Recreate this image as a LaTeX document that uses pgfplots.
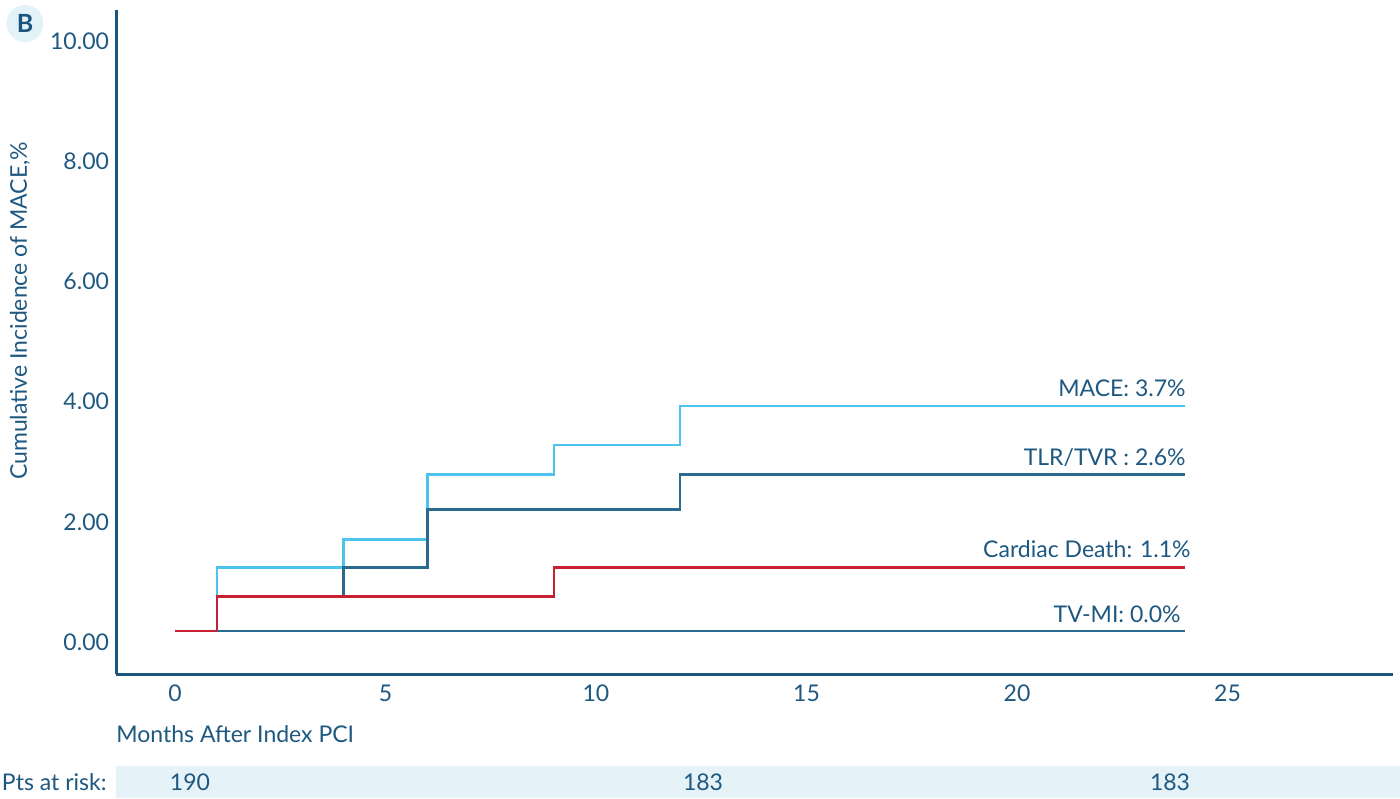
\documentclass[border=0pt]{standalone}
\usepackage{pgfplots}
\pgfplotsset{compat=1.18}
\usepackage{fontspec}
\setmainfont{Lato}
\definecolor{txt}{HTML}{1E5880}
\definecolor{axisc}{HTML}{1A557E}
\definecolor{tlr}{HTML}{2A6A8C}
\definecolor{mace}{HTML}{4DC4EE}
\definecolor{cd}{HTML}{C82030}
\definecolor{band}{HTML}{E5F3F9}
\definecolor{circ}{HTML}{E3F2F8}
\begin{document}
\begin{tikzpicture}
\begin{axis}[
  at={(0,0)}, anchor=south west,
  scale only axis, width=638.5pt, height=332pt,
  xmin=-1.40, xmax=28.93, ymin=-0.534, ymax=10.52,
  axis lines=left,
  axis line style={-, draw=axisc, line width=1.5pt},
  xtick={0,5,10,15,20,25}, ytick={0,2,4,6,8,10},
  major tick length=0pt,
  /pgf/number format/assume math mode=true,
  ticklabel style={font=\fontsize{11.5}{13}\selectfont, text=txt},
  yticklabel style={/pgf/number format/.cd, fixed, fixed zerofill, precision=2},
  xticklabel style={yshift=-2pt},
  clip=false,
  ylabel={Cumulative Incidence of MACE,\%},
  ylabel style={at={(axis description cs:-0.0752,0.547)}, anchor=center, font=\fontsize{11.5}{13}\selectfont, text=txt},
  xlabel={Months After Index PCI},
  xlabel style={at={(axis description cs:0,-0.0904)}, anchor=west, inner sep=0pt, font=\fontsize{11.5}{13}\selectfont, text=txt},
]
\addplot[const plot, mace, line width=1.3pt] coordinates {(0,0.18) (1,1.24) (4,1.71) (6,2.79) (9,3.28) (12,3.93) (24,3.93)};
\addplot[const plot, tlr, line width=1.3pt] coordinates {(0,0.18) (1,0.76) (4,1.24) (6,2.20) (12,2.79) (24,2.79)};
\addplot[const plot, cd, line width=1.3pt] coordinates {(0,0.18) (1,0.76) (9,1.24) (24,1.24)};
\addplot[const plot, tlr, line width=1.3pt] coordinates {(1,0.18) (24,0.18)};
\end{axis}
\begin{scope}[x=0.5pt, y=-0.5pt, shift={(-58pt,337pt)}]
\path[use as bounding box] (0,0) rectangle (1400,798);
\fill[band] (116,766) rectangle (1400,798);
\fill[circ] (25,23.5) circle (18.5);
\node[text=axisc, font=\fontsize{12.5}{14}\selectfont\bfseries] at (25,23.5) {B};
\tikzset{lbl/.style={text=txt, font=\fontsize{11.5}{13}\selectfont, inner sep=0pt}}
\node[lbl, anchor=east] at (107,782) {Pts at risk:};
\node[lbl] at (190,782) {190};
\node[lbl] at (703,782) {183};
\node[lbl] at (1170,782) {183};
\node[lbl, anchor=east] at (1186,388) {MACE: 3.7\%};
\node[lbl, anchor=east] at (1186,458) {TLR/TVR : 2.6\%};
\node[lbl, anchor=east] at (1191,549) {Cardiac Death: 1.1\%};
\node[lbl, anchor=east] at (1181,614) {TV-MI: 0.0\%};
\end{scope}
\end{tikzpicture}
\end{document}
